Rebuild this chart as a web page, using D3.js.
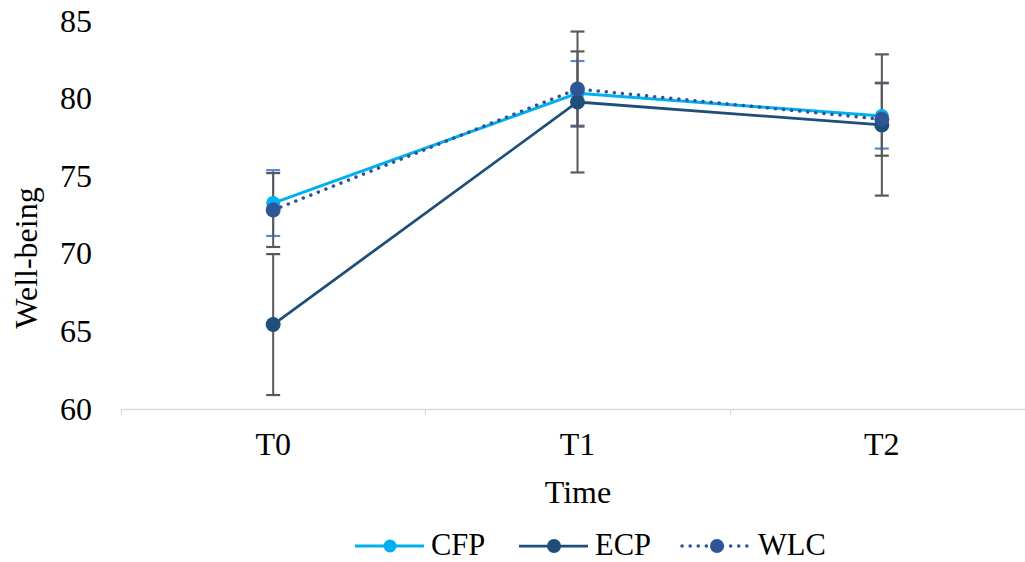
<!DOCTYPE html>
<html><head><meta charset="utf-8">
<script src="https://cdn.jsdelivr.net/npm/d3@7"></script>
<style>body{margin:0;background:#fff}svg{display:block}text{font-family:"Liberation Serif","Times New Roman",serif;fill:#000}</style>
</head><body><svg id="c" width="1025" height="562"></svg>
<script>
const categories = ["T0","T1","T2"];
const seriesNames = ["CFP","ECP","WLC"];
const cfpValues = [73.27, 80.34, 78.88];
const ecpValues = [65.44, 79.78, 78.30];
const wlcValues = [72.82, 80.62, 78.67];
const cfpErrors = [2.12, 2.08, 2.1];
const ecpErrors = [4.54, 4.54, 4.55];
const wlcErrors = [2.38, 2.42, 2.35];
const yTicks = [60,65,70,75,80,85];

const svg = d3.select("#c");
const x = d3.scalePoint().domain(categories).range([121,1034]).padding(0.5);
const xb = d3.scaleBand().domain(categories).range([121,1034]);
const y = d3.scaleLinear().domain([60,85]).range([409,21]);
const FS = 32;

const series = [
  {name:"CFP", values:cfpValues, err:cfpErrors, color:"#00b0f0", width:3, dash:null, r:7, cap:"#5b86d6", stem:"#5b86d6"},
  {name:"ECP", values:ecpValues, err:ecpErrors, color:"#1f4e79", width:2.75, dash:null, r:7.5, cap:"#595959", stem:"#595959"},
  {name:"WLC", values:wlcValues, err:wlcErrors, color:"#2f5597", width:3.5, dash:"0.1,8", r:7.5, cap:"#595959", stem:"#595959"}
];

// x axis line and ticks
svg.append("line").attr("x1",121).attr("x2",1034).attr("y1",409.5).attr("y2",409.5).attr("stroke","#d9d9d9").attr("stroke-width",1.3);
const bounds = categories.map(c=>xb(c)).concat([xb.range()[1]]);
svg.selectAll(".xt").data(bounds).enter().append("line")
  .attr("x1",d=>Math.round(d)+0.5).attr("x2",d=>Math.round(d)+0.5).attr("y1",409).attr("y2",415)
  .attr("stroke","#d9d9d9").attr("stroke-width",1.3);

// y tick labels
svg.selectAll(".yl").data(yTicks).enter().append("text")
  .attr("x",92).attr("y",d=>y(d)).attr("dy","0.33em").attr("text-anchor","end")
  .attr("font-size",FS).text(d=>d);
// x tick labels
svg.selectAll(".xl").data(categories).enter().append("text")
  .attr("x",d=>x(d)).attr("y",444).attr("dy","0.33em").attr("text-anchor","middle")
  .attr("font-size",FS).text(d=>d);
// axis titles
svg.append("text").attr("x",578).attr("y",492).attr("dy","0.33em").attr("text-anchor","middle").attr("font-size",FS).text("Time");
svg.append("text").attr("transform","translate(26,258) rotate(-90)").attr("dy","0.33em").attr("text-anchor","middle").attr("font-size",FS).text("Well-being");

// error bars
series.forEach(s=>{
  const g = svg.append("g");
  categories.forEach((c,i)=>{
    const cx = x(c), top = y(s.values[i]+s.err[i]), bot = y(s.values[i]-s.err[i]);
    g.append("line").attr("x1",cx).attr("x2",cx).attr("y1",top).attr("y2",bot).attr("stroke",s.stem).attr("stroke-width",2);
    [top,bot].forEach(yy=>g.append("line").attr("x1",cx-7).attr("x2",cx+7).attr("y1",yy).attr("y2",yy).attr("stroke",s.cap).attr("stroke-width",2.2));
  });
});

// lines and markers
const line = d3.line().x((d,i)=>x(categories[i])).y(d=>y(d));
series.forEach(s=>{
  const p = svg.append("path").datum(s.values).attr("d",line).attr("fill","none")
    .attr("stroke",s.color).attr("stroke-width",s.width);
  if(s.dash) p.attr("stroke-dasharray",s.dash).attr("stroke-linecap","round");
  svg.selectAll(null).data(s.values).enter().append("circle")
    .attr("cx",(d,i)=>x(categories[i])).attr("cy",d=>y(d)).attr("r",s.r).attr("fill",s.color);
});

// legend
const legendX = [355, 519, 682];
series.forEach((s,i)=>{
  const lx = legendX[i], ly = 546;
  const l = svg.append("line").attr("x1",lx).attr("x2",lx+69).attr("y1",ly).attr("y2",ly)
    .attr("stroke",s.color).attr("stroke-width",s.width);
  if(s.dash) l.attr("stroke-dasharray",s.dash).attr("stroke-linecap","round");
  svg.append("circle").attr("cx",lx+35).attr("cy",ly).attr("r",s.r-0.5).attr("fill",s.color);
  svg.append("text").attr("x",lx+76).attr("y",555).attr("font-size",30.5).text(s.name);
});
</script></body></html>
